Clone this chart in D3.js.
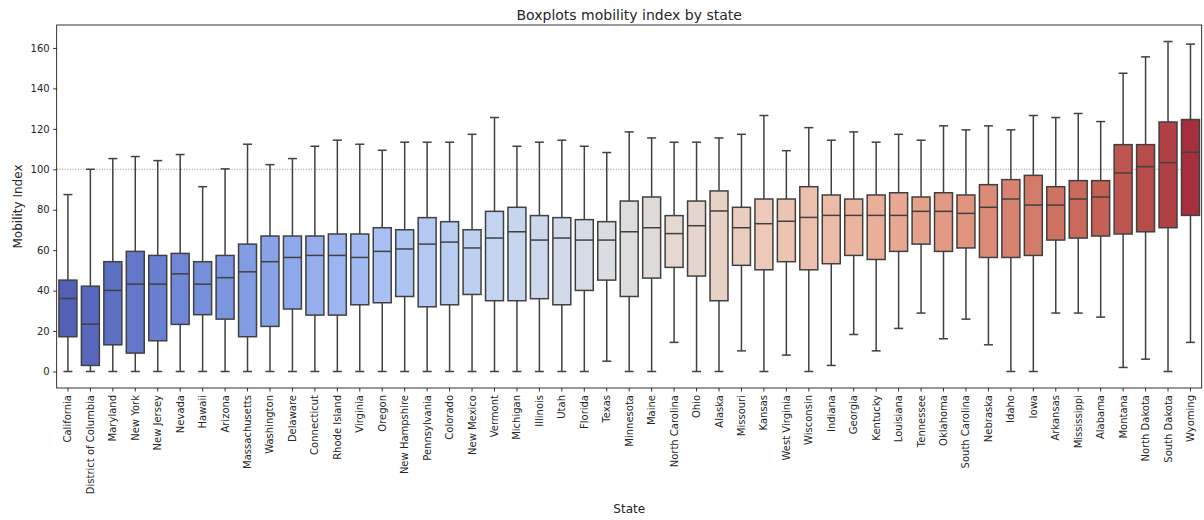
<!DOCTYPE html>
<html>
<head>
<meta charset="utf-8">
<script src="https://cdn.jsdelivr.net/npm/d3@7"></script>
<style>
  html, body { margin: 0; padding: 0; background: #fff; }
  svg { display: block; font-family: "DejaVu Sans", sans-serif; }
</style>
</head>
<body>
<svg id="chart" width="1204" height="520"></svg>
<script>
// Mobility index distribution per state (whiskers, quartiles, median)
const states = ["California","District of Columbia","Maryland","New York","New Jersey","Nevada","Hawaii","Arizona","Massachusetts","Washington","Delaware","Connecticut","Rhode Island","Virginia","Oregon","New Hampshire","Pennsylvania","Colorado","New Mexico","Vermont","Michigan","Illinois","Utah","Florida","Texas","Minnesota","Maine","North Carolina","Ohio","Alaska","Missouri","Kansas","West Virginia","Wisconsin","Indiana","Georgia","Kentucky","Louisiana","Tennessee","Oklahoma","South Carolina","Nebraska","Idaho","Iowa","Arkansas","Mississippi","Alabama","Montana","North Dakota","South Dakota","Wyoming"];

const lowWhisker = [0,0,0,0,0,0,0,0,0,0,0,0,0,0,0,0,0,0,0,0,0,0,0,0,5.1,0,0,14.4,0,0,10.2,0,8.1,0,3.0,18.3,10.2,21.3,28.9,16.2,25.9,13.2,0,0,28.9,28.9,26.9,2.0,6.1,0,14.4];
const q1 = [17.2,3.0,13.2,9.1,15.2,23.3,28.1,25.9,17.2,22.3,30.9,27.9,27.9,33.0,34.0,37.1,32.0,33.0,38.1,35.0,35.0,36.0,33.0,40.1,45.2,37.1,46.2,51.5,47.2,35.0,52.5,50.3,54.3,50.3,53.3,57.4,55.4,59.4,63.0,59.4,61.1,56.4,56.4,57.4,65.0,66.0,67.0,68.0,69.1,71.1,77.2];
const median = [36.1,23.4,40.1,43.2,43.2,48.3,43.2,46.4,49.3,54.3,56.4,57.4,57.4,56.4,59.4,60.6,63.0,64.0,61.1,66.0,69.1,65.0,66.0,65.0,65.0,69.1,71.1,68.2,72.1,79.4,71.1,73.1,74.3,76.2,77.2,77.2,77.2,77.2,79.2,79.2,78.2,81.2,85.3,82.3,82.3,85.3,86.3,98.2,101.3,103.3,108.4];
const q3 = [45.2,42.2,54.3,59.4,57.4,58.4,54.3,57.4,63.0,67.0,67.0,67.0,68.0,68.0,71.1,70.1,76.1,74.1,70.1,79.2,81.2,77.1,76.1,75.1,74.1,84.3,86.3,77.1,84.3,89.3,81.2,85.3,85.3,91.4,87.3,85.3,87.3,88.4,86.3,88.4,87.3,92.4,94.9,97.0,91.4,94.4,94.4,112.2,112.2,123.4,124.6];
const highWhisker = [87.5,100,105.3,106.3,104.3,107.3,91.4,100.2,112.4,102.3,105.3,111.4,114.4,112.4,109.4,113.4,113.4,113.4,117.3,125.6,111.4,113.4,114.4,111.4,108.3,118.5,115.5,113.4,113.4,115.5,117.3,126.6,109.2,120.6,114.4,118.5,113.4,117.3,114.4,121.5,119.5,121.5,119.5,126.6,125.6,127.6,123.6,147.5,155.6,163.2,161.9];

const yTicks = [0,20,40,60,80,100,120,140,160];
const referenceLevel = 100;

const titleText = "Boxplots mobility index by state";
const xLabel = "State";
const yLabel = "Mobility Index";

// Diverging blue-grey-red colormap control points (evenly spaced)
const coolwarmStops = [
  [59,76,192],[68,90,204],[77,104,215],[87,117,225],[98,130,234],[108,142,241],
  [119,154,247],[130,165,251],[141,176,254],[152,185,255],[163,194,255],[174,201,253],
  [184,208,249],[194,213,244],[204,217,238],[213,219,230],[221,221,221],[229,216,209],
  [236,211,197],[241,204,184],[245,196,172],[247,187,160],[247,177,148],[247,166,137],
  [244,154,123],[241,141,111],[236,127,99],[229,112,88],[222,96,77],[213,80,66],
  [203,62,56],[192,40,47],[180,4,38]
];
const coolwarm = d3.piecewise(d3.interpolateRgb, coolwarmStops.map(c => d3.rgb(c[0], c[1], c[2])));

// Sample n colours, skipping the extreme ends, then soften saturation
function boxColor(i, n) {
  const c = d3.hsl(coolwarm((i + 1) / (n + 1)));
  c.s *= 0.75;
  return c.formatHex();
}

const svg = d3.select("#chart");
const W = 1204, H = 520;
const margin = { left: 56.7, right: W - 1201.7, top: 25, bottom: H - 388 };
const plotL = margin.left, plotR = W - margin.right, plotT = margin.top, plotB = H - margin.bottom;

const x = d3.scaleBand().domain(states).range([plotL, plotR]).paddingInner(0).paddingOuter(0);

const dataMin = d3.min(lowWhisker), dataMax = d3.max(highWhisker);
const pad = (dataMax - dataMin) * 0.05;
const y = d3.scaleLinear().domain([dataMin - pad, dataMax + pad]).range([plotB, plotT]);

const lineColor = "#404040";
const lw = 1.5;
const boxW = x.bandwidth() * 0.8;
const capW = boxW * 0.5;

// Reference line
svg.append("line")
  .attr("x1", plotL).attr("x2", plotR)
  .attr("y1", y(referenceLevel)).attr("y2", y(referenceLevel))
  .attr("stroke", "#808080").attr("stroke-width", 0.9)
  .attr("stroke-dasharray", "1,1.65");

// Boxes
const n = states.length;
const g = svg.append("g").selectAll("g").data(states).join("g")
  .attr("transform", d => `translate(${x(d) + x.bandwidth() / 2},0)`);

g.each(function(d, i) {
  const s = d3.select(this);
  // whiskers
  s.append("line").attr("x1", 0).attr("x2", 0)
    .attr("y1", y(q3[i])).attr("y2", y(highWhisker[i]))
    .attr("stroke", lineColor).attr("stroke-width", lw);
  s.append("line").attr("x1", 0).attr("x2", 0)
    .attr("y1", y(q1[i])).attr("y2", y(lowWhisker[i]))
    .attr("stroke", lineColor).attr("stroke-width", lw);
  // caps
  s.append("line").attr("x1", -capW / 2).attr("x2", capW / 2)
    .attr("y1", y(highWhisker[i])).attr("y2", y(highWhisker[i]))
    .attr("stroke", lineColor).attr("stroke-width", lw);
  s.append("line").attr("x1", -capW / 2).attr("x2", capW / 2)
    .attr("y1", y(lowWhisker[i])).attr("y2", y(lowWhisker[i]))
    .attr("stroke", lineColor).attr("stroke-width", lw);
  // box
  s.append("rect")
    .attr("x", -boxW / 2).attr("width", boxW)
    .attr("y", y(q3[i])).attr("height", y(q1[i]) - y(q3[i]))
    .attr("fill", boxColor(i, n))
    .attr("stroke", lineColor).attr("stroke-width", lw);
  // median
  s.append("line").attr("x1", -boxW / 2).attr("x2", boxW / 2)
    .attr("y1", y(median[i])).attr("y2", y(median[i]))
    .attr("stroke", lineColor).attr("stroke-width", lw);
});

// Axes
const yAxis = svg.append("g").attr("transform", `translate(${plotL},0)`)
  .call(d3.axisLeft(y).tickValues(yTicks).tickSize(3.5).tickPadding(3.5).tickSizeOuter(0));
const xAxis = svg.append("g").attr("transform", `translate(0,${plotB})`)
  .call(d3.axisBottom(x).tickSize(3.5).tickPadding(3.5).tickSizeOuter(0));

[yAxis, xAxis].forEach(a => {
  a.select(".domain").remove();
  a.selectAll(".tick line").attr("stroke", "#000").attr("stroke-width", 0.8);
  a.selectAll(".tick text").attr("fill", "#262626").style("font-size", "10px")
    .style("font-family", "'DejaVu Sans', sans-serif");
});

xAxis.selectAll(".tick text")
  .attr("transform", "rotate(-90)")
  .attr("text-anchor", "end")
  .attr("x", -7).attr("y", 0).attr("dy", "0.35em");

// Frame
svg.append("rect")
  .attr("x", plotL).attr("y", plotT)
  .attr("width", plotR - plotL).attr("height", plotB - plotT)
  .attr("fill", "none").attr("stroke", "#000").attr("stroke-width", 0.8);

// Titles
svg.append("text")
  .attr("x", (plotL + plotR) / 2).attr("y", 20)
  .attr("text-anchor", "middle").style("font-size", "14px").attr("fill", "#262626")
  .text(titleText);

svg.append("text")
  .attr("x", (plotL + plotR) / 2).attr("y", 512.5)
  .attr("text-anchor", "middle").style("font-size", "12px").attr("fill", "#262626")
  .text(xLabel);

svg.append("text")
  .attr("transform", `translate(21.5,${(plotT + plotB) / 2}) rotate(-90)`)
  .attr("text-anchor", "middle").style("font-size", "12px").attr("fill", "#262626")
  .text(yLabel);
</script>
</body>
</html>
